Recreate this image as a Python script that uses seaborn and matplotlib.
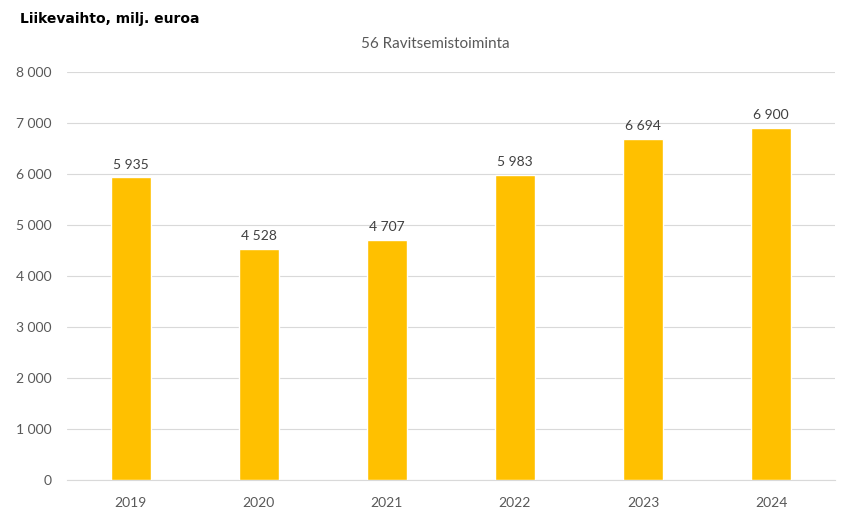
import pandas as pd
import seaborn as sns
import matplotlib.pyplot as plt

# Data
years = ["2019", "2020", "2021", "2022", "2023", "2024"]
revenue = [5935, 4528, 4707, 5983, 6694, 6900]

df = pd.DataFrame({"year": years, "revenue": revenue})

sns.set_style("white")
plt.rcParams['font.family'] = ['Lato', 'DejaVu Sans']

fig = plt.figure(figsize=(8.54, 5.32), dpi=100)
ax = fig.add_axes([0.078, 0.0977, 0.9, 0.767])

sns.barplot(data=df, x="year", y="revenue", color="#FFC000", width=0.31,
            saturation=1, ax=ax, zorder=3)

ax.set_ylim(0, 8000)
ax.set_yticks(range(0, 8001, 1000))
ax.set_yticklabels([f"{v:,}".replace(",", " ") for v in range(0, 8001, 1000)])
ax.yaxis.grid(True, color="#D9D9D9", linewidth=0.8, zorder=0)
ax.set_xlabel("")
ax.set_ylabel("")
for s in ["top", "right", "left"]:
    ax.spines[s].set_visible(False)
ax.spines["bottom"].set_color("#D9D9D9")
ax.tick_params(axis="both", colors="#595959", labelsize=10, length=0)
ax.tick_params(axis="y", pad=11)
ax.tick_params(axis="x", pad=12)

# Value labels
for i, v in enumerate(revenue):
    ax.text(i, v + 130, f"{v:,}".replace(",", " "), ha="center", va="bottom",
            fontsize=10, color="#404040")

fig.text(0.023, 0.965, "Liikevaihto, milj. euroa", fontsize=10, fontweight="bold",
         color="black", ha="left", va="center", family="DejaVu Sans")
fig.text(0.51, 0.917, "56 Ravitsemistoiminta", fontsize=11, color="#595959",
         ha="center", va="center")

fig.savefig("out.png", dpi=100)
